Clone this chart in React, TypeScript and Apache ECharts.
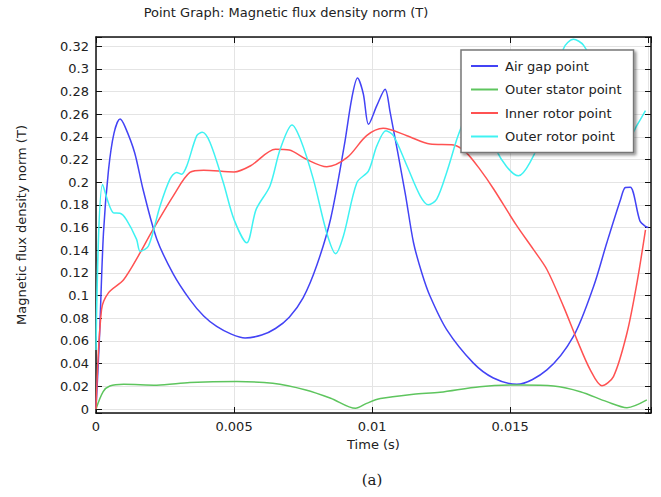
import React, { useEffect, useRef } from "react";
import * as echarts from "echarts";

const titleText = "Point Graph: Magnetic flux density norm (T)";
const xAxisTitle = "Time (s)";
const yAxisTitle = "Magnetic flux density norm (T)";
const captionText = "(a)";
const seriesNames = ["Air gap point", "Outer stator point", "Inner rotor point", "Outer rotor point"];
const seriesColors = ["#4343f5", "#5ec55e", "#ff5252", "#3ff2f2"];

const airGapT = [0, 0.00012, 0.00027, 0.00045, 0.00065, 0.00087, 0.00105, 0.0014, 0.0017, 0.0022, 0.0028, 0.0034, 0.0039, 0.00437, 0.0049, 0.0054, 0.006, 0.0065, 0.007, 0.0075, 0.008, 0.0085, 0.009, 0.00926, 0.00947, 0.00968, 0.00987, 0.01017, 0.01047, 0.01065, 0.0112, 0.0115, 0.0118, 0.0121, 0.0127, 0.01366, 0.01439, 0.01524, 0.01633, 0.01729, 0.01802, 0.0185, 0.019, 0.01917, 0.01935, 0.0197, 0.0199, 0.02];
const airGapB = [0, 0.06, 0.155, 0.21, 0.243, 0.2557, 0.249, 0.226, 0.194, 0.15, 0.119, 0.0965, 0.082, 0.0728, 0.066, 0.0626, 0.0652, 0.071, 0.081, 0.098, 0.127, 0.168, 0.2335, 0.2735, 0.2918, 0.278, 0.251, 0.2675, 0.282, 0.262, 0.19, 0.1466, 0.12, 0.0994, 0.07, 0.0407, 0.0274, 0.0218, 0.0345, 0.064, 0.108, 0.1466, 0.185, 0.1953, 0.1956, 0.1658, 0.161, 0.16];

const outerStatorT = [0, 0.00026, 0.0005, 0.001, 0.0022, 0.0034, 0.0051, 0.0064, 0.0076, 0.0085, 0.0094, 0.0098, 0.0103, 0.0115, 0.01246, 0.0139, 0.01536, 0.01657, 0.01754, 0.0185, 0.01923, 0.01995];
const outerStatorB = [0, 0.0153, 0.0203, 0.0218, 0.021, 0.0233, 0.0242, 0.0227, 0.0168, 0.0095, 0.0006, 0.005, 0.0092, 0.013, 0.0148, 0.0197, 0.0212, 0.0203, 0.0153, 0.0065, 0.0012, 0.008];

const innerRotorT = [0, 0.0002, 0.00045, 0.001, 0.0016, 0.002, 0.0028, 0.0034, 0.0039, 0.005, 0.0056, 0.0065, 0.007, 0.0076, 0.00836, 0.0091, 0.0098, 0.0104, 0.01126, 0.0121, 0.01295, 0.0134, 0.0139, 0.0144, 0.0152, 0.01584, 0.01633, 0.01693, 0.01742, 0.0179, 0.01832, 0.01874, 0.01923, 0.01959, 0.0199];
const innerRotorB = [0, 0.0876, 0.1024, 0.114, 0.1378, 0.1555, 0.188, 0.2086, 0.2106, 0.209, 0.2145, 0.229, 0.2283, 0.2204, 0.2136, 0.2218, 0.241, 0.2475, 0.241, 0.2336, 0.2328, 0.2263, 0.2115, 0.194, 0.163, 0.1407, 0.123, 0.0905, 0.061, 0.0345, 0.0206, 0.0286, 0.067, 0.111, 0.158];

const outerRotorT = [0, 0.00024, 0.00063, 0.00087, 0.0011, 0.00147, 0.0016, 0.0019, 0.00232, 0.00268, 0.00292, 0.0031, 0.00329, 0.00365, 0.00385, 0.00413, 0.00461, 0.005, 0.00546, 0.0058, 0.0063, 0.00667, 0.0071, 0.0074, 0.00787, 0.00836, 0.00868, 0.00896, 0.00945, 0.00987, 0.01017, 0.0105, 0.01077, 0.01126, 0.01174, 0.01204, 0.01234, 0.0127, 0.01307, 0.01325, 0.0136, 0.0139, 0.0142, 0.0145, 0.0153, 0.01572, 0.0162, 0.01693, 0.01729, 0.01766, 0.0183, 0.0188, 0.019, 0.0193, 0.01959, 0.0199];
const outerRotorB = [0.052, 0.198, 0.173, 0.1726, 0.167, 0.1496, 0.139, 0.1437, 0.179, 0.2027, 0.2086, 0.207, 0.2145, 0.241, 0.244, 0.235, 0.1997, 0.167, 0.1466, 0.176, 0.1967, 0.229, 0.2505, 0.238, 0.2027, 0.155, 0.137, 0.1525, 0.1997, 0.21, 0.232, 0.2454, 0.241, 0.2145, 0.188, 0.18, 0.185, 0.2086, 0.238, 0.25, 0.272, 0.276, 0.262, 0.228, 0.2056, 0.2175, 0.245, 0.3177, 0.326, 0.3206, 0.29, 0.245, 0.236, 0.238, 0.25, 0.263];

const xMin = 0;
const xMax = 0.0201;
const yMin = -0.0035;
const yMax = 0.328;

const FONT = "DejaVu Sans";

function zip(t: number[], v: number[]) {
  return t.map((x, i) => [x, v[i]]);
}

export default function App() {
  const ref = useRef<HTMLDivElement>(null);
  useEffect(() => {
    if (!ref.current) return;
    const chart = echarts.init(ref.current, null, { renderer: "svg" });
    const data = [zip(airGapT, airGapB), zip(outerStatorT, outerStatorB), zip(innerRotorT, innerRotorB), zip(outerRotorT, outerRotorB)];
    const xFmt = (v: number) => {
      const k = v / 0.005;
      if (Math.abs(k - Math.round(k)) > 1e-6 || v > 0.0199) return "";
      return String(parseFloat(v.toFixed(4)));
    };
    const yFmt = (v: number) => {
      const k = v / 0.02;
      if (Math.abs(k - Math.round(k)) > 1e-6 || v < -1e-9) return "";
      return String(parseFloat(v.toFixed(3)));
    };
    const axisLine = { show: true, onZero: false, lineStyle: { color: "#111", width: 1.5 } };
    const axisTick = { show: true, inside: true, length: 6, lineStyle: { color: "#111", width: 1 } };
    chart.setOption({
      animation: false,
      backgroundColor: "#fff",
      grid: { left: 96, right: 10, top: 37, bottom: 84, containLabel: false },
      graphic: [
        { type: "text", x: 286, y: 12, style: { text: titleText, font: `13px "${FONT}"`, fill: "#222", textAlign: "center", textVerticalAlign: "middle" } },
        { type: "text", x: 372, y: 480, style: { text: captionText, font: `15px "DejaVu Serif"`, fill: "#1a1a1a", textAlign: "center", textVerticalAlign: "middle" } },
      ],
      legend: {
        orient: "vertical",
        left: 461,
        top: 50,
        padding: [8, 12, 8, 10],
        itemGap: 7.5,
        itemWidth: 27,
        itemHeight: 2,
        icon: "rect",
        backgroundColor: "#fff",
        borderColor: "#777",
        borderWidth: 1.5,
        borderRadius: 0,
        shadowColor: "rgba(0,0,0,0.45)",
        shadowBlur: 3,
        shadowOffsetX: 2,
        shadowOffsetY: 2,
        textStyle: { fontFamily: FONT, fontSize: 13, color: "#222", lineHeight: 16, padding: [0, 0, 0, 2] },
        data: seriesNames,
      },
      xAxis: [
        {
          type: "value",
          min: xMin,
          max: xMax,
          splitNumber: 4,
          position: "bottom",
          name: xAxisTitle,
          nameLocation: "middle",
          nameGap: 23,
          nameTextStyle: { fontFamily: FONT, fontSize: 13, color: "#222" },
          axisLine,
          axisTick,
          axisLabel: { fontFamily: FONT, fontSize: 13, color: "#222", margin: 7, formatter: xFmt },
          splitLine: { show: true, lineStyle: { color: "#e4e4e4", width: 1 } },
        },
        {
          type: "value",
          min: xMin,
          max: xMax,
          splitNumber: 4,
          position: "top",
          axisLine,
          axisTick,
          axisLabel: { show: false },
          splitLine: { show: false },
        },
      ],
      yAxis: [
        {
          type: "value",
          min: yMin,
          max: yMax,
          splitNumber: 16,
          position: "left",
          name: yAxisTitle,
          nameLocation: "middle",
          nameGap: 68,
          nameTextStyle: { fontFamily: FONT, fontSize: 13, color: "#222" },
          axisLine,
          axisTick,
          axisLabel: { fontFamily: FONT, fontSize: 13, color: "#222", margin: 7, formatter: yFmt },
          splitLine: { show: true, lineStyle: { color: "#e4e4e4", width: 1 } },
        },
        {
          type: "value",
          min: yMin,
          max: yMax,
          splitNumber: 16,
          position: "right",
          axisLine,
          axisTick,
          axisLabel: { show: false },
          splitLine: { show: false },
        },
      ],
      series: seriesNames.map((name, i) => ({
        name,
        type: "line",
        xAxisIndex: 0,
        yAxisIndex: 0,
        data: data[i],
        showSymbol: false,
        symbol: "none",
        smooth: 0.3,
        color: seriesColors[i],
        lineStyle: { color: seriesColors[i], width: 1.5 },
        z: 2,
      })),
    });
    return () => chart.dispose();
  }, []);
  return <div ref={ref} style={{ width: 661, height: 497, position: "absolute", left: 0, top: 0 }} />;
}
